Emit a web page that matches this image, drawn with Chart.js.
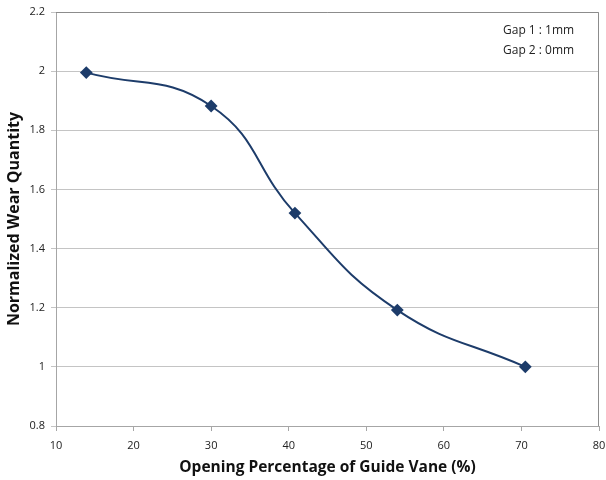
<!DOCTYPE html>
<html>
<head>
<meta charset="utf-8">
<script src="https://cdn.jsdelivr.net/npm/chart.js@4.4.1/dist/chart.umd.min.js"></script>
<style>
  html, body { margin: 0; padding: 0; background: #fff; }
  #wrap { width: 606px; height: 480px; }
</style>
</head>
<body>
<div id="wrap"><canvas id="grafico" width="606" height="480"></canvas></div>
<script>
// abertura da palheta guia (%) x desgaste normalizado
const abertura = [13.9, 30, 40.8, 54, 70.5];
const desgaste = [1.995, 1.882, 1.52, 1.192, 1.0];
const legendaGap = ['Gap 1 : 1mm', 'Gap 2 : 0mm'];
const tituloX = 'Opening Percentage of Guide Vane (%)';
const tituloY = 'Normalized Wear Quantity';

const corSerie = '#1d3c6a';
const corGrade = '#c4c4c4';
const fonte = "'Open Sans', 'Liberation Sans', sans-serif";

// moldura da area do grafico + caixa de texto com os gaps
const extras = {
    id: 'extras',
    afterDraw(chart) {
        const { ctx, chartArea: a } = chart;
        ctx.save();
        ctx.strokeStyle = '#8c8c8c';
        ctx.lineWidth = 1;
        ctx.beginPath();
        ctx.moveTo(a.left, a.top + 0.5);
        ctx.lineTo(a.right - 0.5, a.top + 0.5);
        ctx.lineTo(a.right - 0.5, a.bottom);
        ctx.stroke();

        ctx.fillStyle = '#222';
        ctx.font = '12px ' + fonte;
        ctx.textAlign = 'left';
        ctx.textBaseline = 'middle';
        legendaGap.forEach((t, i) => ctx.fillText(t, 503, 31 + i * 20));
        ctx.restore();
    }
};

new Chart(document.getElementById('grafico'), {
    type: 'line',
    data: {
        datasets: [{
            data: abertura.map((x, i) => ({ x: x, y: desgaste[i] })),
            borderColor: corSerie,
            backgroundColor: corSerie,
            borderWidth: 2,
            tension: 0.45,
            pointStyle: 'rectRot',
            pointRadius: 5,
            pointHoverRadius: 5
        }]
    },
    options: {
        responsive: false,
        animation: false,
        events: [],
        layout: { padding: { top: 12, right: 6, left: 0, bottom: 0 } },
        plugins: { legend: { display: false }, tooltip: { enabled: false } },
        scales: {
            x: {
                type: 'linear',
                min: 10, max: 80,
                // tamanho fixo do eixo, sem folga extra para os rotulos
                afterFit(s) { s.height = 54; s.paddingLeft = 0; s.paddingRight = 0; },
                ticks: { stepSize: 10, color: '#222', font: { family: fonte, size: 11 }, padding: 8, maxRotation: 0 },
                grid: { drawOnChartArea: false, drawTicks: true, tickLength: 5, color: '#a6a6a6' },
                border: { color: '#a6a6a6' },
                title: {
                    display: true, text: tituloX, color: '#111',
                    font: { family: fonte, size: 15.5, weight: 'bold' },
                    padding: { top: 4, bottom: 3 }
                }
            },
            y: {
                min: 0.8, max: 2.2,
                afterFit(s) { s.width = 56; s.paddingTop = 0; s.paddingBottom = 0; },
                ticks: {
                    stepSize: 0.2, color: '#222', font: { family: fonte, size: 11 }, padding: 6,
                    callback: v => Math.round(v * 10) / 10
                },
                grid: { color: corGrade, tickLength: 5 },
                border: { color: '#a6a6a6' },
                title: {
                    display: true, text: tituloY, color: '#111',
                    font: { family: fonte, size: 16, weight: 'bold' },
                    padding: { top: 5, bottom: 2 }
                }
            }
        }
    },
    plugins: [extras]
});
</script>
</body>
</html>
